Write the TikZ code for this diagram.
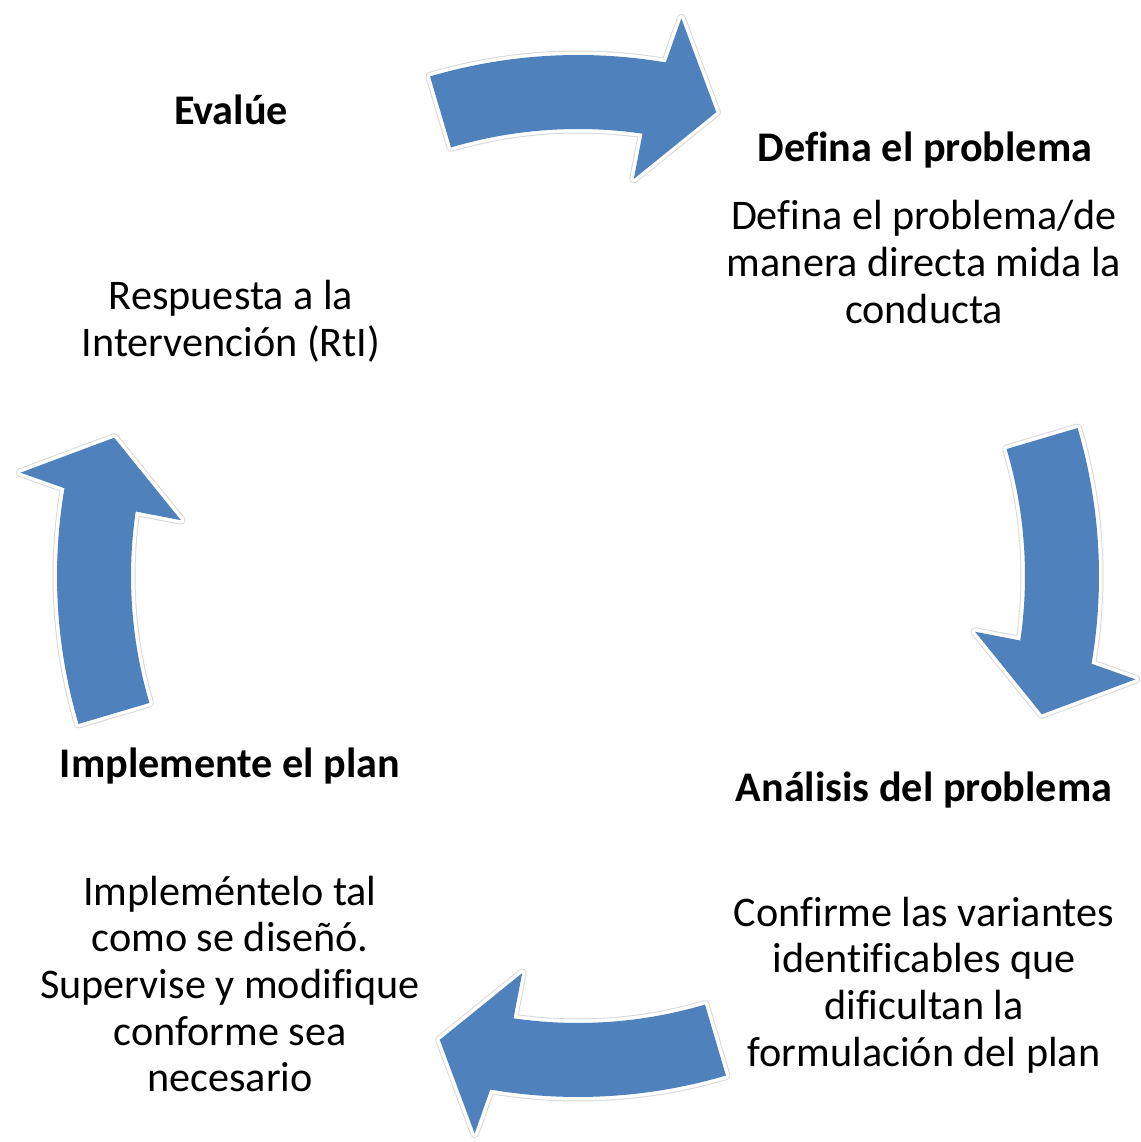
\documentclass[tikz,border=0pt]{standalone}
\usepackage{fontspec}
\setmainfont[Ligatures=NoCommon]{Carlito}
\definecolor{arrowblue}{HTML}{4F81BD}
\tikzset{
  cyclearrow/.pic={
    \path[draw=black!15, line width=9, line join=round]
      (106.5:521) arc[start angle=106.5, end angle=80.3, radius=521]
      -- (79.5:567) -- (73.4:484) -- (82:401) -- (81.7:447)
      arc[start angle=81.7, end angle=106.5, radius=447] -- cycle;
    \path[draw=white, line width=7, line join=round]
      (106.5:521) arc[start angle=106.5, end angle=80.3, radius=521]
      -- (79.5:567) -- (73.4:484) -- (82:401) -- (81.7:447)
      arc[start angle=81.7, end angle=106.5, radius=447] -- cycle;
    \fill[arrowblue]
      (106.5:521) arc[start angle=106.5, end angle=80.3, radius=521]
      -- (79.5:567) -- (73.4:484) -- (82:401) -- (81.7:447)
      arc[start angle=81.7, end angle=106.5, radius=447] -- cycle;
  },
  title/.style={font=\fontsize{42.2}{46.7}\selectfont\bfseries, align=center, inner sep=0},
  body/.style={font=\fontsize{42.2}{46.7}\selectfont, align=center, inner sep=0}
}
\begin{document}
\begin{tikzpicture}[x=1pt, y=1pt]
\useasboundingbox[fill=white] (0,0) rectangle (1140,1142);
\coordinate (C) at (578,566);
\pic[shift={(C)}, rotate=0] {cyclearrow};
\pic[shift={(C)}, rotate=-90] {cyclearrow};
\pic[shift={(C)}, rotate=-180] {cyclearrow};
\pic[shift={(C)}, rotate=-270] {cyclearrow};

\node[title] (t1) at (231,1142-110) {Evalúe};
\node[body] (b1) at (231,1142-321) {Respuesta a la\\Intervención (RtI)};
\node[title] (t2) at (925,1142-150) {Defina el problema};
\node[body] (b2) at (924,1142-262) {Defina el problema/de\\manera directa mida la\\conducta};
\node[title] (t3) at (924,1142-790) {Análisis del problema};
\node[body] (b3) at (924,1142-985) {Confirme las variantes\\identificables que\\dificultan la\\formulación del plan};
\node[title] (t4) at (230,1142-766) {Implemente el plan};
\node[body] (b4) at (230,1142-984) {Impleméntelo tal\\como se diseñó.\\Supervise y modifique\\conforme sea\\necesario};
\end{tikzpicture}
\end{document}
